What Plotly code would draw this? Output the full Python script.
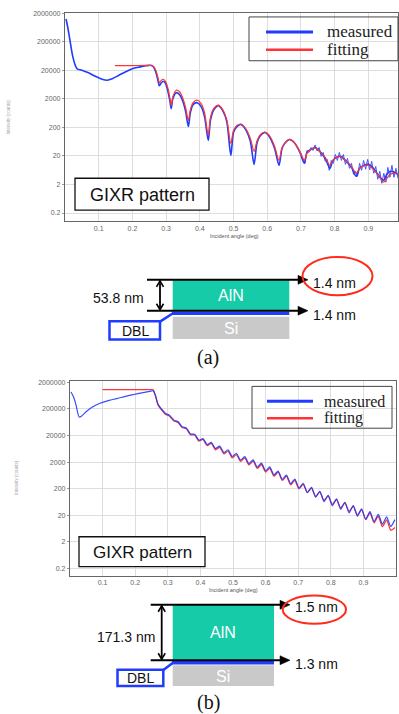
import plotly.graph_objects as go

W, H = 399, 714

# ---------------- panel (a) data ----------------
a_meas_x = [0.003, 0.008, 0.015, 0.022, 0.03, 0.036, 0.05, 0.07, 0.09, 0.11, 0.125, 0.14,
            0.16, 0.18, 0.20, 0.22, 0.24, 0.255, 0.262, 0.27, 0.276, 0.28, 0.286, 0.292,
            0.298, 0.305, 0.311, 0.315, 0.32, 0.33, 0.34, 0.35, 0.358, 0.366, 0.372, 0.38,
            0.392, 0.404, 0.414, 0.425, 0.432, 0.442, 0.455, 0.468, 0.48, 0.492, 0.5, 0.51,
            0.522, 0.536, 0.55, 0.561, 0.57, 0.58, 0.593, 0.606, 0.622, 0.635, 0.644, 0.654,
            0.666, 0.68, 0.697, 0.71, 0.718, 0.73, 0.742, 0.756, 0.772, 0.786, 0.795, 0.805,
            0.818, 0.832, 0.85, 0.864, 0.874, 0.886, 0.9, 0.915, 0.93, 0.945, 0.955, 0.965,
            0.978, 0.988]
a_meas_y = [1240000, 650000, 211000, 68900, 30800, 22400, 19900, 16200, 12200, 9640, 8890, 10000,
            13300, 17600, 22400, 25600, 28500, 29600, 26200, 16200, 8550, 5720, 7280, 8200,
            7000, 3830, 1720, 904, 2010, 3270, 2780, 1580, 711, 213, 656, 1245,
            1460, 1060, 475, 69.3, 374, 834, 1150, 769, 318, 20.8, 132, 213,
            251, 168, 64.0, 10.1, 59.0, 104, 132, 95.5, 36.5, 9.33, 36.5, 59.0,
            75.2, 59.0, 26.5, 11.0, 26.5, 33.7, 39.5, 28.7, 16.4, 7.33, 13.9, 17.7,
            19.2, 13.9, 7.94, 3.86, 7.33, 9.33, 10.1, 7.33, 4.19, 2.80, 4.53, 5.77,
            5.32, 4.53]
# high-angle noisy part of the measured curve
a_noise_x = [0.700, 0.706, 0.712, 0.718, 0.724, 0.730, 0.736, 0.742, 0.748, 0.754,
             0.760, 0.766, 0.772, 0.778, 0.784, 0.790, 0.796, 0.802, 0.808, 0.814,
             0.820, 0.826, 0.832, 0.838, 0.844, 0.850, 0.856, 0.862, 0.868, 0.874,
             0.880, 0.886, 0.892, 0.898, 0.904, 0.910, 0.916, 0.922, 0.928, 0.934,
             0.940, 0.946, 0.952, 0.958, 0.964, 0.970, 0.976, 0.982, 0.988]
a_noise_y = [17.7, 16.4, 11.0, 31.1, 26.5, 39.5, 31.1, 48.3, 29.9, 39.5,
             19.2, 26.5, 12.9, 15.1, 6.25, 13.9, 11.0, 22.5, 13.9, 26.5,
             13.9, 22.5, 10.1, 16.4, 7.33, 11.0, 4.53, 5.77, 3.86, 11.0,
             6.25, 13.9, 6.78, 15.1, 6.50, 12.9, 4.91, 8.61, 3.03, 5.77,
             2.20, 4.91, 2.39, 7.94, 3.56, 9.33, 3.56, 7.33, 3.29]
a_fit_x = [0.148, 0.2, 0.25, 0.262, 0.27, 0.276, 0.28, 0.286, 0.292,
           0.298, 0.305, 0.311, 0.315, 0.32, 0.33, 0.34, 0.35, 0.358, 0.366, 0.372, 0.38,
           0.392, 0.404, 0.414, 0.425, 0.432, 0.442, 0.455, 0.468, 0.48, 0.492, 0.5, 0.51,
           0.522, 0.536, 0.55, 0.561, 0.57, 0.58, 0.593, 0.606, 0.622, 0.635, 0.644, 0.654,
           0.666, 0.68, 0.697, 0.71, 0.718, 0.73, 0.742, 0.756, 0.772, 0.786, 0.795, 0.805,
           0.818, 0.832, 0.85, 0.864, 0.874, 0.886, 0.9, 0.915, 0.93, 0.945, 0.955, 0.965,
           0.978, 0.988]
a_fit_y = [29000, 29000, 29300, 27400, 19100, 10900, 7280, 8890, 9640,
           8200, 4870, 2180, 1150, 2370, 3990, 3530, 2010, 980, 345, 834, 1460,
           1790, 1350, 656, 104, 475, 940, 1200, 834, 374, 54.5, 155, 231,
           261, 182, 81.5, 28.7, 69.3, 112, 137, 104, 42.9, 13.9, 39.5, 59.0,
           75.2, 59.0, 28.7, 13.9, 24.4, 33.7, 38.0, 28.7, 17.7, 9.33, 13.9, 17.7,
           18.5, 13.9, 8.61, 4.91, 7.33, 8.97, 9.33, 6.78, 4.19, 2.39, 3.29, 4.53,
           4.91, 4.7]

# ---------------- panel (b) data ----------------
b_meas_x = [0.003, 0.01, 0.018, 0.028, 0.035, 0.051, 0.07, 0.092, 0.12, 0.143, 0.17, 0.194,
            0.22, 0.245, 0.255, 0.262, 0.27,
            0.2800, 0.2928, 0.3056, 0.3184, 0.3312, 0.3440, 0.3568, 0.3696, 0.3824, 0.3952,
            0.4080, 0.4208, 0.4336, 0.4464, 0.4592, 0.4720, 0.4848, 0.4976, 0.5104, 0.5232,
            0.5360, 0.5488, 0.5616, 0.5744, 0.5872, 0.6000, 0.6128, 0.6256, 0.6384, 0.6512,
            0.6640, 0.6768, 0.6896, 0.7024, 0.7152, 0.7280, 0.7408, 0.7536, 0.7664, 0.7792,
            0.7920, 0.8048, 0.8176, 0.8304, 0.8432, 0.8560, 0.8688, 0.8816, 0.8944, 0.9072,
            0.9200, 0.9328, 0.9456, 0.9584, 0.9712, 0.9840, 0.9968]
b_meas_y = [867000, 598000, 300000, 100000, 107000, 164000, 242000, 327000, 424000, 491000,
            598000, 692000, 809000, 920000, 961000, 652000, 300000,
            204000, 136000, 115000, 76200, 67100, 42900, 38800, 22900, 22600, 13400,
            15300, 9120, 11100, 6490, 8070, 4590, 5860, 3260, 4330, 2400,
            3250, 1770, 2440, 1300, 1830, 957, 1320, 659, 929, 452,
            652, 310, 459, 211, 322, 144, 226, 97.5, 160, 65.9,
            113, 45.7, 82.8, 33.7, 62.2, 24.9, 46.7, 18.5, 35.0, 14.1,
            27.4, 11.5, 21.8, 9.38, 17.4, 7.64, 13.8]
b_fit_x = [0.1, 0.15, 0.2, 0.25, 0.255, 0.262, 0.27,
           0.2800, 0.2928, 0.3056, 0.3184, 0.3312, 0.3440, 0.3568, 0.3696, 0.3824, 0.3952,
           0.4080, 0.4208, 0.4336, 0.4464, 0.4592, 0.4720, 0.4848, 0.4976, 0.5104, 0.5232,
           0.5360, 0.5488, 0.5616, 0.5744, 0.5872, 0.6000, 0.6128, 0.6256, 0.6384, 0.6512,
           0.6640, 0.6768, 0.6896, 0.7024, 0.7152, 0.7280, 0.7408, 0.7536, 0.7664, 0.7792,
           0.7920, 0.8048, 0.8176, 0.8304, 0.8432, 0.8560, 0.8688, 0.8816, 0.8944, 0.9072,
           0.9200, 0.9328, 0.9456, 0.9584, 0.9712, 0.9840, 0.9968]
b_fit_y = [1070000, 1070000, 1070000, 1070000, 1060000, 640000, 285000,
           190000, 127000, 107000, 71100, 62600, 40000, 36200, 21400, 21100, 12500,
           14300, 8300, 10100, 5840, 7260, 4090, 5220, 2900, 3850, 2140,
           2890, 1580, 2170, 1160, 1630, 852, 1170, 593, 836, 411,
           593, 282, 418, 200, 293, 144, 210, 102, 152, 72.5,
           108, 51.2, 79.1, 37.7, 59.4, 27.9, 44.6, 20.4, 32.6, 14.1,
           24.7, 10.4, 18.5, 7.5, 13.6, 5.5, 7.0]

# ---------------- tick labels / texts ----------------
y_tick_vals = [0.2, 2, 20, 200, 2000, 20000, 200000, 2000000]
y_tick_text = ["0.2", "2", "20", "200", "2000", "20000", "200000", "2000000"]
x_tick_vals = [0.1, 0.2, 0.3, 0.4, 0.5, 0.6, 0.7, 0.8, 0.9]
x_tick_text = ["0.1", "0.2", "0.3", "0.4", "0.5", "0.6", "0.7", "0.8", "0.9"]
series_names = ["measured", "fitting"]
x_title = "Incident angle (deg)"
y_title = "Intensity (counts)"
box_label = "GIXR pattern"
a_thick, a_top, a_bot = "53.8 nm", "1.4 nm", "1.4 nm"
b_thick, b_top, b_bot = "171.3 nm", "1.5 nm", "1.3 nm"

BLUE = "#1f3cff"
RED = "#ff3535"
GREEN = "#15cba8"
GREY = "#c9c9c9"


def X(p):
    return p / W


def Y(p):
    return 1 - p / H


fig = go.Figure()
# panel (a)
fig.add_trace(go.Scatter(x=a_meas_x, y=a_meas_y, mode="lines", name=series_names[0],
                         line=dict(color=BLUE, width=1.6, shape="spline", smoothing=0.8),
                         xaxis="x", yaxis="y", showlegend=False))
fig.add_trace(go.Scatter(x=a_noise_x, y=a_noise_y, mode="lines", name=series_names[0],
                         line=dict(color=BLUE, width=1), opacity=0.85,
                         xaxis="x", yaxis="y", showlegend=False))
fig.add_trace(go.Scatter(x=a_fit_x, y=a_fit_y, mode="lines", name=series_names[1],
                         line=dict(color=RED, width=1.2, shape="spline", smoothing=0.8),
                         xaxis="x", yaxis="y", showlegend=False))
# panel (b)
fig.add_trace(go.Scatter(x=b_fit_x, y=b_fit_y, mode="lines", name=series_names[1],
                         line=dict(color=RED, width=1.3, shape="spline", smoothing=0.6),
                         xaxis="x2", yaxis="y2", showlegend=False))
fig.add_trace(go.Scatter(x=b_meas_x, y=b_meas_y, mode="lines", name=series_names[0],
                         line=dict(color=BLUE, width=1.2, shape="spline", smoothing=0.6),
                         opacity=0.9, xaxis="x2", yaxis="y2", showlegend=False))

tickfont = dict(size=7, color="#666", family="Liberation Sans")
common_x = dict(tickvals=x_tick_vals, ticktext=x_tick_text, tickfont=tickfont,
                showgrid=True, gridcolor="#dedede", gridwidth=1, zeroline=False,
                showline=True, linecolor="#666", linewidth=1.3, mirror=True,
                ticks="", ticklabelstandoff=0)
common_y = dict(type="log", tickvals=y_tick_vals, ticktext=y_tick_text, tickfont=tickfont,
                showgrid=True, gridcolor="#dedede", gridwidth=1, zeroline=False,
                showline=True, linecolor="#666", linewidth=1.3, mirror=True,
                ticks="outside", ticklen=2, tickcolor="#999")

fig.update_layout(
    width=W, height=H, margin=dict(l=0, r=0, t=0, b=0),
    paper_bgcolor="white", plot_bgcolor="white", showlegend=False,
    xaxis=dict(domain=[X(65), X(398)], range=[0, 0.988], anchor="y", **common_x),
    yaxis=dict(domain=[Y(219), Y(10)], range=[-0.981, 6.305], anchor="x", **common_y),
    xaxis2=dict(domain=[X(70), X(396)], range=[0, 1.0], anchor="y2", **common_x),
    yaxis2=dict(domain=[Y(575), Y(380)], range=[-0.965, 6.338], anchor="x2", **common_y),
)

shapes = []
ann = []


def rect(x0, y0, x1, y1, fill=None, line_color=None, lw=1):
    shapes.append(dict(type="rect", xref="paper", yref="paper",
                       x0=X(x0), x1=X(x1), y0=Y(y1), y1=Y(y0),
                       fillcolor=fill if fill else "rgba(0,0,0,0)",
                       line=dict(color=line_color if line_color else "rgba(0,0,0,0)", width=lw),
                       layer="above"))


def seg(x0, y0, x1, y1, color, lw):
    shapes.append(dict(type="line", xref="paper", yref="paper",
                       x0=X(x0), y0=Y(y0), x1=X(x1), y1=Y(y1),
                       line=dict(color=color, width=lw), layer="above"))


def path(pts, fill=None, color="black", lw=1.5, close=False):
    d = "M " + " L ".join(f"{X(px):.5f},{Y(py):.5f}" for px, py in pts)
    if close:
        d += " Z"
    shapes.append(dict(type="path", xref="paper", yref="paper", path=d,
                       fillcolor=fill if fill else "rgba(0,0,0,0)",
                       line=dict(color=color, width=lw), layer="above"))


def text(x, y, s, size, color="#111", family="Liberation Sans", xanchor="center", angle=0):
    ann.append(dict(xref="paper", yref="paper", x=X(x), y=Y(y), text=s, showarrow=False,
                    xanchor=xanchor, yanchor="middle", textangle=angle,
                    font=dict(size=size, color=color, family=family)))


def harrow(x0, x1, y):
    seg(x0, y, x1 - 7, y, "black", 2)
    path([(x1, y), (x1 - 10, y - 4.5), (x1 - 10, y + 4.5)], fill="black", lw=0.5, close=True)


def varrow(x, y0, y1):
    seg(x, y0 + 1, x, y1 - 1, "black", 1.8)
    path([(x - 3.5, y0 + 7), (x, y0 + 1), (x + 3.5, y0 + 7)], lw=1.6)
    path([(x - 3.5, y1 - 7), (x, y1 - 1), (x + 3.5, y1 - 7)], lw=1.6)


# ---- legends (manual) ----
rect(249, 14, 398, 58, line_color="#444", lw=1)
seg(266, 29, 313, 29, BLUE, 3)
seg(266, 47, 313, 47, RED, 2.5)
text(325, 29, series_names[0], 17, "#222", "Liberation Serif", "left")
text(325, 47, series_names[1], 17, "#222", "Liberation Serif", "left")

rect(252, 385, 392, 427, line_color="#444", lw=1)
seg(267, 400, 313, 400, BLUE, 3)
seg(267, 417, 313, 417, RED, 2.5)
text(322, 400, series_names[0], 16, "#222", "Liberation Serif", "left")
text(322, 417, series_names[1], 16, "#222", "Liberation Serif", "left")

# ---- GIXR pattern boxes ----
rect(75, 176, 209, 208, fill="white", line_color="#111", lw=1.3)
text(142, 192.5, box_label, 18)
rect(79, 536, 205, 566, fill="white", line_color="#111", lw=1.3)
text(142, 551.5, box_label, 17)

# ---- axis titles ----
text(234, 234, x_title, 5.5, "#555")
text(233, 589, x_title, 5.5, "#555")
text(9, 115, y_title, 4.5, "#aaa", angle=-90)
text(17, 477, y_title, 4.5, "#aaa", angle=-90)

# ---- layer diagram (a) ----
rect(172.7, 278, 289.3, 309, fill=GREEN)
rect(172.7, 315, 289.3, 337.3, fill=GREY)
seg(172, 311.5, 289.3, 311.5, BLUE, 3.5)
seg(173, 311.5, 160, 320, BLUE, 2.5)
rect(109.5, 319.5, 160, 338, line_color=BLUE, lw=2.5)
harrow(147, 308, 278)
harrow(147, 308, 309)
varrow(160, 278, 309)
text(231, 294, "AlN", 16, "white")
text(231, 327, "Si", 16, "white")
text(135, 329.5, "DBL", 14, "#111")
text(118, 296, a_thick, 14)
text(311, 281, a_top, 14, xanchor="left")
text(311, 313.5, a_bot, 14, xanchor="left")
shapes.append(dict(type="circle", xref="paper", yref="paper",
                   x0=X(302.5), x1=X(372.5), y0=Y(293.5), y1=Y(255),
                   line=dict(color="#ff2a1a", width=2), layer="above"))
text(208, 356, "(a)", 20, "#111", "Liberation Serif")

# ---- layer diagram (b) ----
rect(172.7, 604, 274, 660, fill=GREEN)
rect(172.7, 665, 274, 686, fill=GREY)
seg(172, 662.5, 274, 662.5, BLUE, 3.5)
seg(173, 662.5, 163, 670, BLUE, 2.5)
rect(117.5, 669.5, 163.3, 686, line_color=BLUE, lw=2.5)
harrow(150.7, 290, 604.3)
harrow(150.7, 290, 660)
varrow(161.7, 604.3, 660)
text(223, 632, "AlN", 16, "white")
text(223, 676, "Si", 16, "white")
text(140.5, 678, "DBL", 14, "#111")
text(126, 637, b_thick, 14)
text(293, 607, b_top, 14, xanchor="left")
text(293, 663.5, b_bot, 14, xanchor="left")
shapes.append(dict(type="circle", xref="paper", yref="paper",
                   x0=X(282.7), x1=X(346), y0=Y(623.3), y1=Y(595),
                   line=dict(color="#ff2a1a", width=2), layer="above"))
text(208, 702, "(b)", 20, "#111", "Liberation Serif")

fig.update_layout(shapes=shapes, annotations=ann)
fig.write_html("out.html", config={"displayModeBar": False},
               post_script="document.body.style.margin='0';document.body.style.overflow='hidden';")
